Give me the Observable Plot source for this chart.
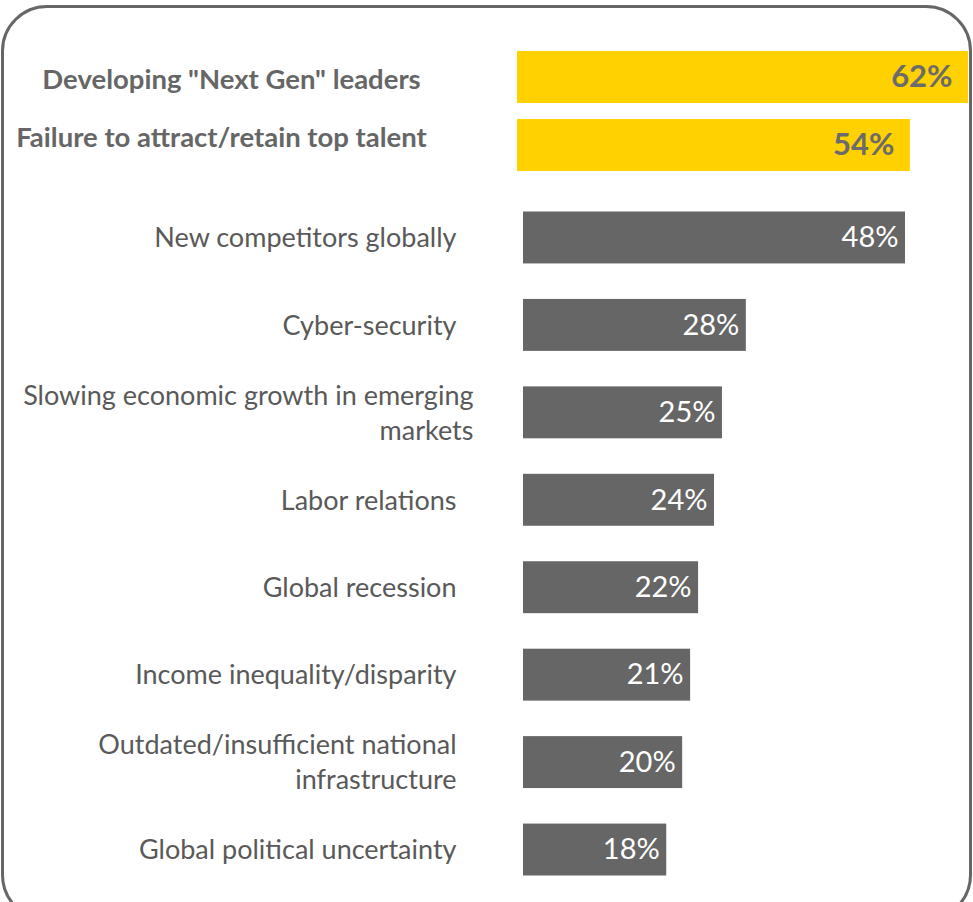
<!DOCTYPE html>
<html>
<head>
<meta charset="utf-8">
<script src="https://cdn.jsdelivr.net/npm/d3@7"></script>
<script src="https://cdn.jsdelivr.net/npm/@observablehq/plot@0.6"></script>
<style>
  html, body { margin: 0; padding: 0; background: #fff; }
  #wrap { position: relative; width: 973px; height: 902px; overflow: hidden; font-family: Lato, sans-serif; }
  #frame { position: absolute; left: 1px; top: 5px; width: 965px; height: 910px; border: 3px solid #666; border-radius: 46px; }
  .layer { position: absolute; left: 0; }
</style>
</head>
<body>
<div id="wrap"><div id="frame"></div><div id="top" class="layer" style="top:0"></div><div id="bottom" class="layer" style="top:158px"></div></div>
<script>
const topLabels = ['Developing "Next Gen" leaders', 'Failure to attract/retain top talent'];
const topValues = [62, 54];
const labels = [
  "New competitors globally",
  "Cyber-security",
  "Slowing economic growth in emerging\nmarkets",
  "Labor relations",
  "Global recession",
  "Income inequality/disparity",
  "Outdated/insufficient national\ninfrastructure",
  "Global political uncertainty"
];
const values = [48, 28, 25, 24, 22, 21, 20, 18];

const topData = topLabels.map((label, i) => ({label, value: topValues[i]}));
const data = labels.map((label, i) => ({label, value: values[i]}));
const fmt = d => d.value + "%";
const font = "Lato, sans-serif";
const wide = labels[2];

const topPlot = Plot.plot({
  width: 973, height: 187,
  marginTop: 35, marginBottom: 0, marginLeft: 517, marginRight: 5,
  style: {fontFamily: font, background: "transparent", overflow: "visible"},
  x: {axis: null},
  y: {axis: null, domain: topLabels, padding: 0.235, round: false},
  marks: [
    Plot.barX(topData, {y: "label", x: "value", fill: "#FFD100"}),
    Plot.text(topData, {y: "label", x: "value", text: fmt, textAnchor: "end", dx: -16, fill: "#6b6b6b", fontSize: 31, fontWeight: "bold"}),
    Plot.text(topData.slice(0, 1), {y: "label", text: "label", frameAnchor: "left", dx: -286, dy: 3, textAnchor: "middle", fill: "#666", fontSize: 27.5, fontWeight: "bold"}),
    Plot.text(topData.slice(1), {y: "label", text: "label", frameAnchor: "left", dx: -296, dy: -7, textAnchor: "middle", fill: "#666", fontSize: 27.5, fontWeight: "bold"})
  ]
});
document.getElementById("top").appendChild(topPlot);

const plot = Plot.plot({
  width: 973, height: 753,
  marginTop: 18, marginBottom: 0, marginLeft: 523, marginRight: 68,
  style: {fontFamily: font, background: "transparent", overflow: "visible"},
  x: {axis: null},
  y: {axis: null, domain: labels, padding: 0.406, round: false},
  marks: [
    Plot.barX(data, {y: "label", x: "value", fill: "#666666"}),
    Plot.text(data, {y: "label", x: "value", text: fmt, textAnchor: "end", dx: -7, fill: "#fff", fontSize: 29}),
    Plot.text(data.filter(d => d.label !== wide), {y: "label", text: "label", frameAnchor: "left", dx: -67, dy: -2, textAnchor: "end", lineHeight: 1.3, fill: "#595959", fontSize: 27}),
    Plot.text(data.filter(d => d.label === wide), {y: "label", text: "label", frameAnchor: "left", dx: -50, dy: -2, textAnchor: "end", lineHeight: 1.3, fill: "#595959", fontSize: 27})
  ]
});
document.getElementById("bottom").appendChild(plot);
</script>
</body>
</html>
